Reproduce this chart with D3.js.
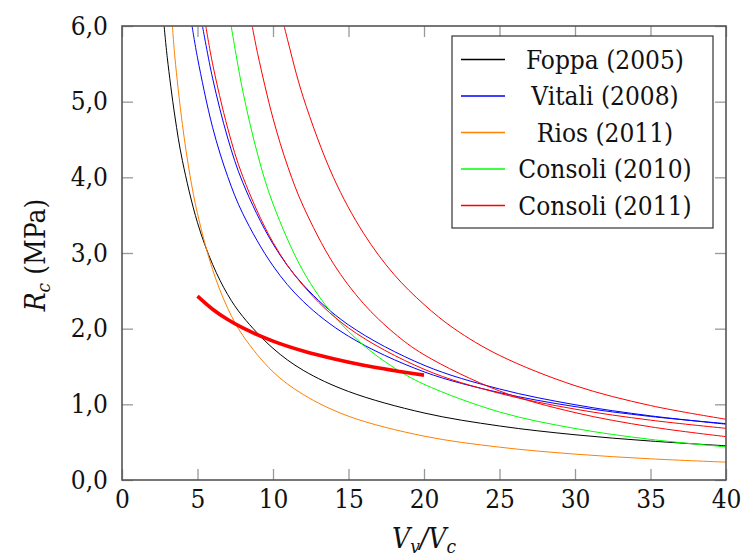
<!DOCTYPE html>
<html><head><meta charset="utf-8">
<script src="https://cdn.jsdelivr.net/npm/d3@7"></script>
<style>
html,body{margin:0;padding:0;background:#fff;}
svg text{font-family:"DejaVu Serif Condensed","DejaVu Serif",serif;font-stretch:condensed;}
</style></head>
<body><svg id="c" width="741" height="556"></svg>
<script>
// ---- data ----
const xTicks = [0, 5, 10, 15, 20, 25, 30, 35, 40];
const yTicks = [0, 1, 2, 3, 4, 5, 6];
const yTickLabels = ["0,0", "1,0", "2,0", "3,0", "4,0", "5,0", "6,0"];
const seriesNames = ["Foppa (2005)", "Vitali (2008)", "Rios (2011)", "Consoli (2010)", "Consoli (2011)"];
const seriesColors = ["#000000", "#0000ff", "#ff8000", "#00ff00", "#ff0000"];

const foppaX = [2.79, 3, 3.5, 4, 5, 6, 7, 8, 10, 12, 15, 20, 25, 30, 35, 40];
const foppaY = [6.0, 5.58, 4.81, 4.22, 3.40, 2.85, 2.45, 2.16, 1.74, 1.45, 1.17, 0.886, 0.714, 0.598, 0.515, 0.452];

const vitaliAX = [4.64, 5, 6, 7, 8, 10, 12, 15, 20, 25, 30, 35, 40];
const vitaliAY = [6.0, 5.58, 4.66, 4.01, 3.52, 2.83, 2.36, 1.90, 1.43, 1.155, 0.97, 0.84, 0.745];
const vitaliBX = [5.33, 6, 7, 8, 10, 12, 15, 20, 25, 30, 35, 40];
const vitaliBY = [6.0, 5.31, 4.52, 3.93, 3.12, 2.58, 2.05, 1.517, 1.203, 0.995, 0.848, 0.738];

const riosX = [3.34, 3.5, 4, 4.5, 5, 6, 7, 8, 10, 12, 15, 20, 25, 30, 35, 40];
const riosY = [6.0, 5.59, 4.70, 4.03, 3.52, 2.78, 2.27, 1.91, 1.43, 1.13, 0.843, 0.580, 0.434, 0.342, 0.280, 0.236];

const consoli10X = [7.23, 8, 9, 10, 12, 14, 16, 18, 20, 25, 30, 35, 40];
const consoli10Y = [6.0, 5.14, 4.29, 3.65, 2.76, 2.18, 1.78, 1.486, 1.265, 0.899, 0.681, 0.537, 0.438];

const consoli11AX = [5.55, 6, 7, 8, 10, 12, 15, 20, 25, 30, 35, 40];
const consoli11AY = [6.0, 5.50, 4.65, 4.01, 3.14, 2.57, 2.01, 1.464, 1.145, 0.937, 0.791, 0.683];
const consoli11BX = [8.62, 9, 10, 11, 12, 14, 16, 18, 20, 25, 30, 35, 40];
const consoli11BY = [6.0, 5.62, 4.78, 4.13, 3.62, 2.86, 2.33, 1.945, 1.656, 1.177, 0.891, 0.703, 0.573];
const consoli11CX = [10.74, 11, 12, 14, 16, 18, 20, 22, 25, 30, 35, 40];
const consoli11CY = [6.0, 5.79, 5.06, 4.00, 3.26, 2.72, 2.32, 2.00, 1.647, 1.247, 0.984, 0.803];

const thickX = [5, 6, 7, 8, 10, 12, 14, 16, 18, 20];
const thickY = [2.43, 2.257, 2.12, 2.009, 1.835, 1.704, 1.602, 1.516, 1.447, 1.386];

// ---- drawing ----
const svg = d3.select("#c");
const L = 122, R = 726, T = 26, B = 480;
const FONT = "26px";
const x = d3.scaleLinear().domain([0, 40]).range([L, R]);
const y = d3.scaleLinear().domain([0, 6]).range([B, T]);

svg.append("defs").append("clipPath").attr("id", "clip")
  .append("rect").attr("x", L).attr("y", T).attr("width", R - L).attr("height", B - T);

const zip = (xs, ys) => xs.map((v, i) => [v, ys[i]]);
const line = d3.line().x(d => x(d[0])).y(d => y(d[1])).curve(d3.curveCatmullRom.alpha(0.5));

const curves = [
  {d: zip(foppaX, foppaY), c: seriesColors[0], w: 1},
  {d: zip(vitaliAX, vitaliAY), c: seriesColors[1], w: 1},
  {d: zip(vitaliBX, vitaliBY), c: seriesColors[1], w: 1},
  {d: zip(riosX, riosY), c: seriesColors[2], w: 1},
  {d: zip(consoli10X, consoli10Y), c: seriesColors[3], w: 1},
  {d: zip(consoli11AX, consoli11AY), c: seriesColors[4], w: 1},
  {d: zip(consoli11BX, consoli11BY), c: seriesColors[4], w: 1},
  {d: zip(consoli11CX, consoli11CY), c: seriesColors[4], w: 1},
  {d: zip(thickX, thickY), c: "#ff0000", w: 3.6}
];

const g = svg.append("g").attr("clip-path", "url(#clip)");
curves.forEach(cv => {
  g.append("path").attr("d", line(cv.d)).attr("fill", "none")
    .attr("stroke", cv.c).attr("stroke-width", cv.w);
});

// axes: ticks inward on all 4 sides
const tickLen = 11;
const axB = d3.axisBottom(x).tickValues(xTicks).tickSize(-tickLen).tickPadding(10).tickFormat(d3.format("d"));
const axT = d3.axisTop(x).tickValues(xTicks).tickSize(-tickLen).tickFormat("");
const axL = d3.axisLeft(y).tickValues(yTicks).tickSize(-tickLen).tickPadding(14).tickFormat((d, i) => yTickLabels[i]);
const axR = d3.axisRight(y).tickValues(yTicks).tickSize(-tickLen).tickFormat("");

function style(sel) {
  sel.select(".domain").remove();
  sel.selectAll(".tick line").attr("stroke", "#999").attr("stroke-width", 1.3);
  sel.selectAll(".tick text").attr("fill", "#111").style("font-size", FONT)
    .style("font-family", "'DejaVu Serif Condensed','DejaVu Serif',serif");
}
svg.append("g").attr("transform", `translate(0,${B})`).call(axB).call(style);
svg.append("g").attr("transform", `translate(0,${T})`).call(axT).call(style);
svg.append("g").attr("transform", `translate(${L},0)`).call(axL).call(style);
svg.append("g").attr("transform", `translate(${R},0)`).call(axR).call(style);

// legend
const lg = svg.append("g");
lg.append("rect").attr("x", 452).attr("y", 36).attr("width", 261).attr("height", 192)
  .attr("fill", "#fff").attr("stroke", "#333").attr("stroke-width", 1.2);
seriesNames.forEach((n, i) => {
  const yy = 59.5 + i * 36.5;
  lg.append("line").attr("x1", 461).attr("x2", 505).attr("y1", yy).attr("y2", yy)
    .attr("stroke", seriesColors[i]).attr("stroke-width", 1.4);
  lg.append("text").attr("x", 605).attr("y", yy + 9).attr("text-anchor", "middle")
    .style("font-size", FONT).attr("fill", "#111").text(n);
});

// frame
svg.append("rect").attr("x", L).attr("y", T).attr("width", R - L).attr("height", B - T)
  .attr("fill", "none").attr("stroke", "#555").attr("stroke-width", 1.6);

// axis titles
const yl = svg.append("text").attr("transform", "translate(45,255) rotate(-90)")
  .attr("text-anchor", "middle").style("font-size", "28px").attr("fill", "#111");
yl.append("tspan").style("font-style", "italic").text("R");
yl.append("tspan").style("font-style", "italic").style("font-size", "19px").attr("dy", 5).text("c");
yl.append("tspan").attr("dy", -5).text(" (MPa)");

const xl = svg.append("text").attr("x", 424).attr("y", 548)
  .attr("text-anchor", "middle").style("font-size", "28px").attr("fill", "#111");
xl.append("tspan").style("font-style", "italic").text("V");
xl.append("tspan").style("font-style", "italic").style("font-size", "19px").attr("dy", 5).text("v");
xl.append("tspan").attr("dy", -5).style("font-style", "italic").text("/V");
xl.append("tspan").style("font-style", "italic").style("font-size", "19px").attr("dy", 5).text("c");
</script></body></html>
